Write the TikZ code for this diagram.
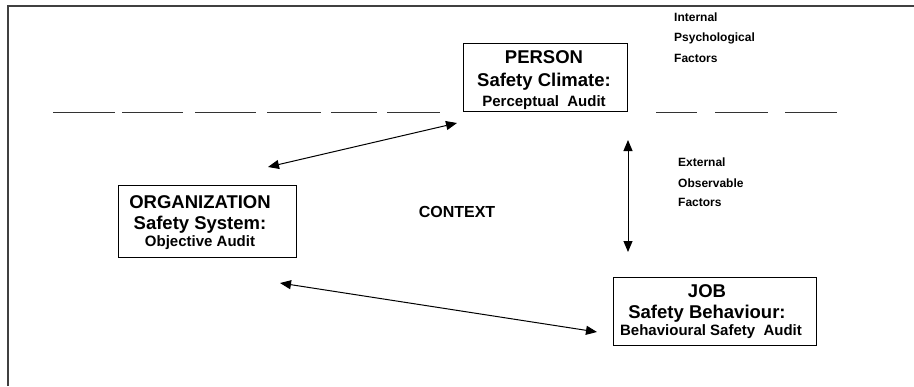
\documentclass[tikz,border=0pt]{standalone}
\usepackage{fontspec}
\setmainfont{Liberation Sans}
\usetikzlibrary{arrows.meta}
\begin{document}
\begin{tikzpicture}[x=1pt,y=-1pt,
  boxnode/.style={draw=black,line width=1pt,anchor=north west,inner sep=0pt},
  big/.style={font=\fontsize{18.5}{20}\selectfont\bfseries,anchor=base,inner sep=0pt},
  small/.style={font=\fontsize{15}{17}\selectfont\bfseries,anchor=base,inner sep=0pt},
  lab/.style={font=\fontsize{12}{14}\selectfont\bfseries,anchor=base west,inner sep=0pt},
  dashseg/.style={line width=1pt,draw=black!80},
  frameline/.style={line width=1.3pt,draw=black!75},
  dbl/.style={line width=1pt,{Triangle[length=11pt,width=9pt]}-{Triangle[length=11pt,width=9pt]}}
]
\useasboundingbox (0,0) rectangle (914,386);
% frame
\draw[frameline] (8,386) -- (8,6) -- (914,6);
% dashes
\foreach \a/\b in {53/115,122/183,195/256,267/321,331/377,387/440,656/697,715/768,785/837}
  \draw[dashseg] (\a,112) -- (\b,112);
% PERSON
\node[boxnode,minimum width=164pt,minimum height=68pt] (person) at (463,43) {};
\node[big] (p1) at (544,63.6) {PERSON};
\node[big] (p2) at (544,86.6) {Safety Climate:};
\node[small] (p3) at (544,106.4) {Perceptual\ \ Audit};
% ORGANIZATION
\node[boxnode,minimum width=178pt,minimum height=72pt] (org) at (118,185) {};
\node[big] (o1) at (200,208.6) {ORGANIZATION};
\node[big] (o2) at (200,229.6) {Safety System:};
\node[small] (o3) at (200,246.4) {Objective Audit};
% JOB
\node[boxnode,minimum width=203pt,minimum height=68pt] (job) at (613,277) {};
\node[big] (j1) at (707,297.6) {JOB};
\node[big] (j2) at (707,318.6) {Safety Behaviour:};
\node[small] (j3) at (711,335.4) {Behavioural Safety\ \ Audit};
% CONTEXT
\node[font=\fontsize{16}{18}\selectfont\bfseries,inner sep=0pt] (ctx) at (457,212) {CONTEXT};
% labels
\node[lab] (i1) at (674,21.3) {Internal};
\node[lab] (i2) at (674,41.3) {Psychological};
\node[lab] (i3) at (674,62.3) {Factors};
\node[lab] (e1) at (678,166.3) {External};
\node[lab] (e2) at (678,187.3) {Observable};
\node[lab] (e3) at (678,206.3) {Factors};
% arrows
\coordinate (a1s) at (268,167);
\coordinate (a1e) at (457,123);
\coordinate (a2s) at (280,283);
\coordinate (a2e) at (597,332);
\coordinate (a3s) at (628,140);
\coordinate (a3e) at (628,252);
\draw[dbl] (a1s) -- (a1e);
\draw[dbl] (a2s) -- (a2e);
\draw[dbl] (a3s) -- (a3e);
\end{tikzpicture}
\end{document}
